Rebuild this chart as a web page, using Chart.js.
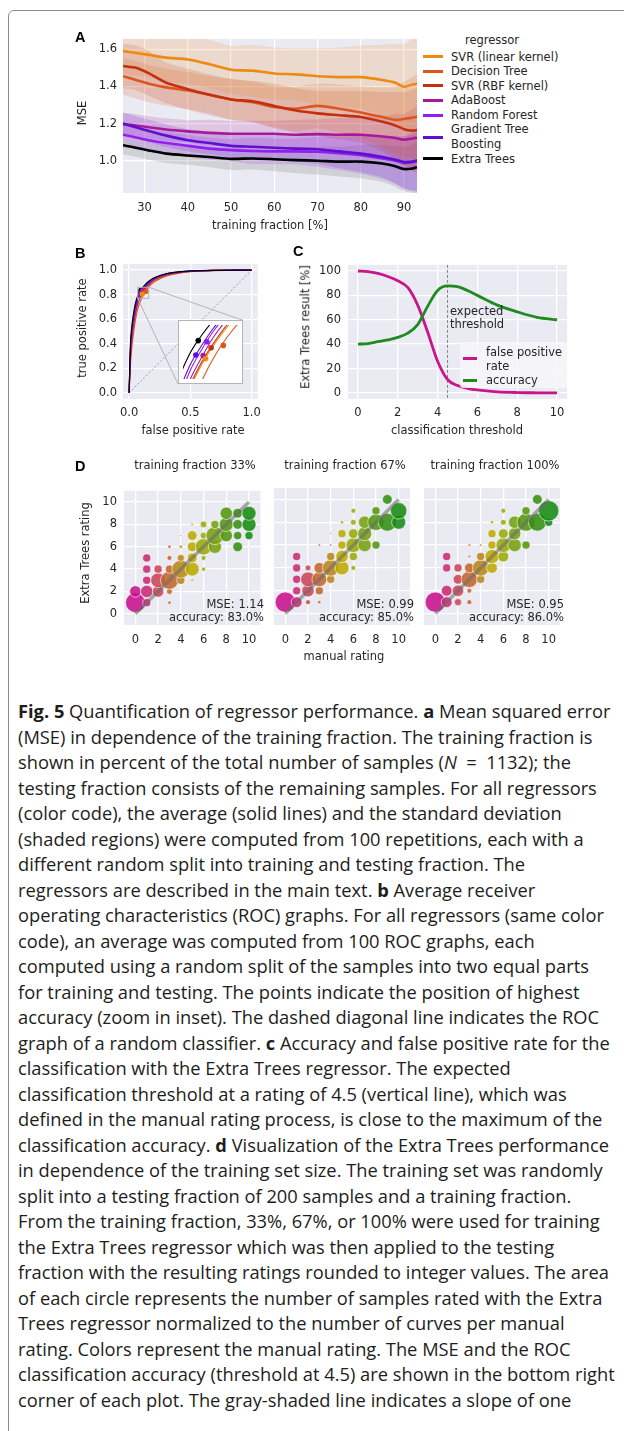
<!DOCTYPE html>
<html>
<head>
<meta charset="utf-8">
<title>Fig. 5 Quantification of regressor performance</title>
<script src="https://cdn.jsdelivr.net/npm/chart.js@4.4.1/dist/chart.umd.min.js"></script>
<style>
  html, body { margin: 0; padding: 0; background: #fff; }
  body { position: relative; width: 624px; height: 1431px; overflow: hidden;
         font-family: "DejaVu Sans", sans-serif; font-size: 11.5px; color: #262626; }
  .frame { position: absolute; left: 8px; top: 10px; width: 720px; height: 1500px;
           border: 1.5px solid #8c8c8c; border-radius: 6px; }
  #charts canvas { position: absolute; }
  .lbl { position: absolute; white-space: nowrap; line-height: 1; transform: translate(-50%, -50%); }
  .rot { transform: translate(-50%, -50%) rotate(-90deg); }
  .panel { position: absolute; font-family: "Liberation Sans", Arial, sans-serif; font-weight: bold;
           font-size: 14.5px; color: #000; line-height: 1; }
  .legend { position: absolute; line-height: 14.6px; }
  .legend .row { display: flex; align-items: center; white-space: nowrap; }
  .legend .swatch { width: 20px; height: 3px; margin-right: 8px; flex: none; }
  .note { position: absolute; white-space: nowrap; text-align: right; line-height: 12.5px; transform: translateX(-100%); }
  .inset { position: absolute; background: #fff; border: 1px solid #b4b4b4; box-sizing: border-box; }
  .caption { position: absolute; left: 18px; top: 698px; font-family: "Open Sans", sans-serif; font-size: 18.3px;
             line-height: 25.5px; color: #1d1d1b; white-space: nowrap; }
</style>
</head>
<body>
<div class="frame"></div>
<div id="charts"></div>

<div class="panel" style="left:75px;top:30px">A</div>
<div class="panel" style="left:75px;top:246px">B</div>
<div class="panel" style="left:293px;top:244px">C</div>
<div class="panel" style="left:75px;top:459px">D</div>

<div class="lbl rot" style="left:83px;top:113px">MSE</div>
<div class="lbl" style="left:270px;top:226px">training fraction [%]</div>
<div class="lbl" style="left:492px;top:41px">regressor</div>
<div class="legend" id="legendA" style="left:423px;top:49.5px"></div>

<div class="lbl rot" style="left:83px;top:328px">true positive rate</div>
<div class="lbl" style="left:193px;top:431px">false positive rate</div>

<div class="lbl rot" style="left:306px;top:327px">Extra Trees result [%]</div>
<div class="lbl" style="left:457px;top:431px">classification threshold</div>
<div class="note" style="left:450px;top:305px;transform:none;text-align:left">expected<br>threshold</div>
<div style="position:absolute;left:460px;top:342px;width:107px;height:46px;background:rgba(247,247,250,0.85);border-radius:3px"></div>
<div class="legend" id="legendC" style="left:463px;top:344.5px;line-height:14.3px"></div>

<div class="lbl rot" style="left:86px;top:553px">Extra Trees rating</div>
<div class="lbl" style="left:344px;top:657px">manual rating</div>
<div id="dTexts"></div>

<div class="caption">
<div><b>Fig. 5</b> Quantification of regressor performance. <b>a</b> Mean squared error</div>
<div>(MSE) in dependence of the training fraction. The training fraction is</div>
<div>shown in percent of the total number of samples (<i>N</i> &nbsp;= &nbsp;1132); the</div>
<div>testing fraction consists of the remaining samples. For all regressors</div>
<div>(color code), the average (solid lines) and the standard deviation</div>
<div>(shaded regions) were computed from 100 repetitions, each with a</div>
<div>different random split into training and testing fraction. The</div>
<div>regressors are described in the main text. <b>b</b> Average receiver</div>
<div>operating characteristics (ROC) graphs. For all regressors (same color</div>
<div>code), an average was computed from 100 ROC graphs, each</div>
<div>computed using a random split of the samples into two equal parts</div>
<div>for training and testing. The points indicate the position of highest</div>
<div>accuracy (zoom in inset). The dashed diagonal line indicates the ROC</div>
<div>graph of a random classifier. <b>c</b> Accuracy and false positive rate for the</div>
<div>classification with the Extra Trees regressor. The expected</div>
<div>classification threshold at a rating of 4.5 (vertical line), which was</div>
<div>defined in the manual rating process, is close to the maximum of the</div>
<div>classification accuracy. <b>d</b> Visualization of the Extra Trees performance</div>
<div>in dependence of the training set size. The training set was randomly</div>
<div>split into a testing fraction of 200 samples and a training fraction.</div>
<div>From the training fraction, 33%, 67%, or 100% were used for training</div>
<div>the Extra Trees regressor which was then applied to the testing</div>
<div>fraction with the resulting ratings rounded to integer values. The area</div>
<div>of each circle represents the number of samples rated with the Extra</div>
<div>Trees regressor normalized to the number of curves per manual</div>
<div>rating. Colors represent the manual rating. The MSE and the ROC</div>
<div>classification accuracy (threshold at 4.5) are shown in the bottom right</div>
<div>corner of each plot. The gray-shaded line indicates a slope of one</div>
</div>

<script>
// ---------- data ----------
const REGRESSORS = ["SVR (linear kernel)", "Decision Tree", "SVR (RBF kernel)", "AdaBoost",
                    "Random Forest", "Gradient Tree Boosting", "Extra Trees"];

// A: mean squared error vs. training fraction
const A_FRACTION = [25, 28, 31, 35, 40, 45, 50, 55, 60, 65, 70, 75, 80, 85, 88, 90, 92, 93];
const MSE_SVR_LINEAR = [1.59, 1.58, 1.57, 1.555, 1.545, 1.52, 1.49, 1.485, 1.47, 1.465, 1.455, 1.45, 1.45, 1.435, 1.42, 1.398, 1.41, 1.415];
const MSE_DECISION   = [1.455, 1.435, 1.415, 1.395, 1.378, 1.355, 1.33, 1.315, 1.29, 1.28, 1.295, 1.28, 1.26, 1.235, 1.22, 1.225, 1.232, 1.236];
const MSE_SVR_RBF    = [1.51, 1.5, 1.47, 1.42, 1.385, 1.355, 1.33, 1.32, 1.295, 1.27, 1.255, 1.245, 1.235, 1.21, 1.19, 1.17, 1.162, 1.165];
const MSE_ADABOOST   = [1.197, 1.19, 1.18, 1.168, 1.158, 1.15, 1.145, 1.145, 1.145, 1.14, 1.143, 1.14, 1.14, 1.13, 1.122, 1.113, 1.12, 1.124];
const MSE_FOREST     = [1.14, 1.125, 1.11, 1.095, 1.08, 1.065, 1.057, 1.052, 1.05, 1.05, 1.048, 1.04, 1.03, 1.012, 1.0, 0.988, 0.992, 0.998];
const MSE_GRADIENT   = [1.2, 1.18, 1.16, 1.135, 1.11, 1.095, 1.08, 1.075, 1.07, 1.065, 1.062, 1.05, 1.038, 1.02, 1.005, 0.993, 0.995, 1.002];
const MSE_EXTRA      = [1.083, 1.07, 1.055, 1.038, 1.028, 1.02, 1.01, 1.012, 1.008, 1.003, 1.0, 0.995, 0.995, 0.985, 0.97, 0.955, 0.958, 0.965];

const STD_SVR_LINEAR = [0.12, 0.12, 0.12, 0.13, 0.13, 0.13, 0.13, 0.14, 0.14, 0.14, 0.15, 0.16, 0.17, 0.19, 0.21, 0.23, 0.25, 0.27];
const STD_DECISION   = [0.10, 0.10, 0.10, 0.10, 0.10, 0.10, 0.11, 0.11, 0.11, 0.12, 0.12, 0.13, 0.14, 0.16, 0.18, 0.20, 0.22, 0.23];
const STD_SVR_RBF    = [0.12, 0.12, 0.12, 0.11, 0.11, 0.11, 0.11, 0.11, 0.12, 0.12, 0.12, 0.13, 0.14, 0.16, 0.18, 0.20, 0.22, 0.23];
const STD_ADABOOST   = [0.06, 0.06, 0.06, 0.06, 0.06, 0.07, 0.07, 0.07, 0.07, 0.08, 0.08, 0.09, 0.10, 0.11, 0.13, 0.14, 0.16, 0.17];
const STD_FOREST     = [0.06, 0.06, 0.06, 0.06, 0.06, 0.06, 0.06, 0.07, 0.07, 0.07, 0.08, 0.09, 0.10, 0.11, 0.12, 0.14, 0.15, 0.16];
const STD_GRADIENT   = [0.06, 0.06, 0.06, 0.06, 0.06, 0.06, 0.06, 0.07, 0.07, 0.07, 0.08, 0.09, 0.10, 0.11, 0.13, 0.14, 0.16, 0.17];
const STD_EXTRA      = [0.05, 0.05, 0.05, 0.05, 0.05, 0.055, 0.06, 0.06, 0.065, 0.07, 0.075, 0.08, 0.09, 0.10, 0.11, 0.12, 0.13, 0.14];

const A_XTICKS = [30, 40, 50, 60, 70, 80, 90];
const A_YTICKS = [1.0, 1.2, 1.4, 1.6];

// B: average ROC graphs
const ROC_FPR = [0, 0.01, 0.02, 0.04, 0.06, 0.08, 0.1, 0.12, 0.15, 0.2, 0.3, 0.4, 0.5, 0.7, 1.0];
const TPR_SVR_LINEAR = [0, 0.27, 0.41, 0.575, 0.685, 0.75, 0.793, 0.826, 0.866, 0.914, 0.958, 0.978, 0.988, 0.997, 1];
const TPR_DECISION   = [0, 0.22, 0.35, 0.52, 0.64, 0.715, 0.765, 0.805, 0.85, 0.9, 0.95, 0.973, 0.986, 0.996, 1];
const TPR_SVR_RBF    = [0, 0.28, 0.42, 0.58, 0.69, 0.755, 0.797, 0.83, 0.87, 0.917, 0.96, 0.979, 0.989, 0.997, 1];
const TPR_ADABOOST   = [0, 0.3, 0.44, 0.6, 0.7, 0.765, 0.805, 0.84, 0.878, 0.922, 0.962, 0.98, 0.99, 0.997, 1];
const TPR_FOREST     = [0, 0.33, 0.47, 0.62, 0.72, 0.78, 0.818, 0.85, 0.885, 0.927, 0.965, 0.982, 0.991, 0.998, 1];
const TPR_GRADIENT   = [0, 0.35, 0.49, 0.64, 0.735, 0.79, 0.825, 0.855, 0.89, 0.93, 0.967, 0.983, 0.992, 0.998, 1];
const TPR_EXTRA      = [0, 0.38, 0.52, 0.67, 0.76, 0.81, 0.842, 0.868, 0.9, 0.935, 0.97, 0.985, 0.993, 0.998, 1];
// position of highest accuracy per regressor
const BEST_FPR = [0.107, 0.136, 0.116, 0.103, 0.109, 0.091, 0.095];
const BEST_TPR = [0.804, 0.826, 0.822, 0.809, 0.832, 0.810, 0.834];
const RANDOM_CLASSIFIER = [0, 1];
const B_XTICKS = [0, 0.5, 1.0];
const B_YTICKS = [0, 0.2, 0.4, 0.6, 0.8, 1.0];
const ZOOM_X = [0.07, 0.16];
const ZOOM_Y = [0.77, 0.86];

// C: Extra Trees classification vs. threshold
const C_THRESHOLD = [0, 0.5, 1, 1.5, 2, 2.5, 3, 3.5, 4, 4.5, 5, 5.5, 6, 7, 8, 9, 10];
const C_FALSE_POS = [100, 99.5, 98, 95.5, 92, 86.5, 72, 50, 26, 11, 6, 3.8, 2.4, 0.9, 0.3, 0.1, 0];
const C_ACCURACY  = [40, 40.5, 42, 43.5, 45.5, 49, 56, 71, 84, 87.8, 87.2, 84, 80, 72, 66.5, 62, 60];
const EXPECTED_THRESHOLD = 4.5;
const C_XTICKS = [0, 2, 4, 6, 8, 10];
const C_YTICKS = [0, 20, 40, 60, 80, 100];

// D: [manual rating, Extra Trees rating, share of curves in %]
const D_FRACTIONS = [33, 67, 100];
const D_MSE = [1.14, 0.99, 0.95];
const D_ACCURACY = [83.0, 85.0, 86.0];
const D33 = [[0,1,53],[0,2,18],
  [1,1,9],[1,2,21],[1,3,9],[1,4,9],[1,5,9],
  [2,2,18],[2,3,30],[2,4,9],
  [3,1,1.5],[3,2,4.5],[3,3,44],[3,4,9],[3,5,3.3],[3,6,1.5],
  [4,3,9],[4,4,44],[4,5,7],[4,6,1.5],[4,7,0.4],
  [5,3,0.8],[5,4,27],[5,5,13],[5,6,13],[5,7,13],[5,8,0.8],
  [6,4,2.3],[6,5,3.3],[6,6,37],[6,7,6],[6,8,6],
  [7,6,24],[7,7,44],[7,8,9],
  [8,7,21],[8,8,27],[8,9,21],
  [9,6,13],[9,7,9],[9,8,13],[9,9,13],
  [10,7,9],[10,8,27],[10,9,27]];
const D67 = [[0,1,57],
  [1,1,16],[1,2,9],[1,3,9],[1,4,9],[1,5,9],
  [2,1,3.3],[2,2,21],[2,3,30],[2,4,4.5],
  [3,1,1.5],[3,2,9],[3,3,30],[3,4,16],[3,6,0.8],
  [4,3,9],[4,4,37],[4,5,9],[4,6,0.8],[4,7,0.4],
  [5,4,27],[5,5,21],[5,6,9],[5,7,9],[5,8,1.5],
  [6,4,3.3],[6,5,9],[6,6,30],[6,7,13],[6,8,4.5],[6,9,3.3],
  [7,6,24],[7,7,27],[7,8,21],
  [8,6,9],[8,8,37],[8,9,9],
  [9,8,44],[9,10,13],
  [10,8,27],[10,9,37]];
const D100 = [[0,1,57],
  [1,1,16],[1,2,16],[1,4,9],[1,5,9],
  [2,1,7],[2,2,18],[2,3,13],[2,4,9],
  [3,1,3.3],[3,2,3.3],[3,3,37],[3,4,13],[3,5,0.8],[3,6,0.8],
  [4,3,9],[4,4,37],[4,5,9],[4,6,0.8],
  [5,4,16],[5,5,27],[5,6,9],[5,7,9],[5,8,1.5],
  [6,5,16],[6,6,30],[6,7,13],[6,8,4.5],[6,9,3.3],
  [7,6,24],[7,7,21],[7,8,21],
  [8,6,9],[8,8,44],[8,9,9],
  [9,8,44],[9,10,13],
  [10,8,9],[10,9,57]];
const SLOPE_ONE = [0, 10];
const D_TICKS = [0, 2, 4, 6, 8, 10];

// ---------- styles ----------
const COLORS = ["#ee8a10", "#dd561c", "#c4300f", "#a6189c", "#961cf2", "#5e10cf", "#000000"];
const D_COLORS = ["#c8108c", "#c82a72", "#c84456", "#c2652e", "#b8861a", "#bbaa00",
                  "#98a80a", "#74a00e", "#52960f", "#349010", "#168a12"];
const FPR_COLOR = "#c8168a";
const ACC_COLOR = "#1f8a1f";
const PLOT_BG = "#eaeaf2";

const A_MEANS = [MSE_SVR_LINEAR, MSE_DECISION, MSE_SVR_RBF, MSE_ADABOOST, MSE_FOREST, MSE_GRADIENT, MSE_EXTRA];
const A_STDS = [STD_SVR_LINEAR, STD_DECISION, STD_SVR_RBF, STD_ADABOOST, STD_FOREST, STD_GRADIENT, STD_EXTRA];
const ROC_TPR = [TPR_SVR_LINEAR, TPR_DECISION, TPR_SVR_RBF, TPR_ADABOOST, TPR_FOREST, TPR_GRADIENT, TPR_EXTRA];

function rgba(hex, a) {
    const n = parseInt(hex.slice(1), 16);
    return "rgba(" + (n >> 16) + "," + ((n >> 8) & 255) + "," + (n & 255) + "," + a + ")";
}

Chart.defaults.font.family = '"DejaVu Sans", sans-serif';
Chart.defaults.font.size = 11.5;
Chart.defaults.color = "#262626";
Chart.defaults.animation = false;

// grey plotting background like seaborn darkgrid
Chart.register({
    id: "plotBg",
    beforeDraw(chart, args, opts) {
        const a = chart.chartArea;
        if (!a || !opts.color) return;
        chart.ctx.save();
        chart.ctx.fillStyle = opts.color;
        chart.ctx.fillRect(a.left, a.top, a.width, a.height);
        chart.ctx.restore();
    }
});

function axis(min, max, ticks, digits, size, pad, show) {
    return {
        type: "linear", min: min, max: max,
        afterBuildTicks: s => { s.ticks = ticks.map(v => ({ value: v })); },
        afterFit: s => { if (s.isHorizontal()) s.height = size; else s.width = size; },
        grid: { color: "#ffffff", lineWidth: 1.3, drawTicks: false },
        border: { display: false },
        ticks: { display: show !== false, padding: pad, autoSkip: false, maxRotation: 0,
                 callback: v => Number(v).toFixed(digits) }
    };
}

function options(xs, ys, bg, extra) {
    return Object.assign({
        responsive: false, animation: false, devicePixelRatio: 1, events: [],
        layout: { padding: { top: 5, right: 5, left: 0, bottom: 0 } },
        plugins: { legend: { display: false }, tooltip: { enabled: false }, plotBg: { color: bg } },
        scales: { x: xs, y: ys }
    }, extra || {});
}

function canvasAt(left, top, w, h, parent) {
    const c = document.createElement("canvas");
    c.width = w; c.height = h;
    c.style.left = left + "px"; c.style.top = top + "px";
    c.style.width = w + "px"; c.style.height = h + "px";
    (parent || document.getElementById("charts")).appendChild(c);
    return c;
}

function xy(xs, ys) { return xs.map((x, k) => ({ x: x, y: ys[k] })); }

// ---------- A ----------
const aSets = [];
A_MEANS.forEach((mean, i) => {
    aSets.push({ data: xy(A_FRACTION, mean), borderColor: COLORS[i], borderWidth: 2.6,
                 pointRadius: 0, tension: 0.25, fill: false, order: 6 - i });
});
A_MEANS.forEach((mean, i) => {
    const sd = A_STDS[i];
    aSets.push({ data: xy(A_FRACTION, mean.map((m, k) => m + sd[k])), borderWidth: 0, pointRadius: 0,
                 tension: 0.25, fill: "+1", backgroundColor: rgba(COLORS[i] === "#000000" ? "#555555" : COLORS[i], 0.17), order: 20 });
    aSets.push({ data: xy(A_FRACTION, mean.map((m, k) => m - sd[k])), borderWidth: 0, pointRadius: 0,
                 tension: 0.25, fill: false, order: 20 });
});
new Chart(canvasAt(83, 26, 339, 187), {
    type: "line",
    data: { datasets: aSets },
    options: options(axis(25, 93, A_XTICKS, 0, 20, 8), axis(0.826, 1.656, A_YTICKS, 1, 40, 6), PLOT_BG)
});

const legA = document.getElementById("legendA");
REGRESSORS.forEach((name, i) => {
    const row = document.createElement("div");
    row.className = "row";
    const label = name === "Gradient Tree Boosting" ? "Gradient Tree<br>Boosting" : name;
    row.innerHTML = '<span class="swatch" style="background:' + COLORS[i] + '"></span><span>' + label + "</span>";
    legA.appendChild(row);
});

// ---------- B ----------
const bLines = ROC_TPR.map((tpr, i) => ({
    data: xy(ROC_FPR, tpr), borderColor: COLORS[i], borderWidth: 1.2, pointRadius: 0,
    cubicInterpolationMode: "monotone", fill: false, order: 10 - i
}));
const bPoints = BEST_FPR.map((f, i) => ({
    data: [{ x: f, y: BEST_TPR[i] }], showLine: false, pointRadius: 2.6,
    pointBackgroundColor: COLORS[i], pointBorderWidth: 0, order: 0
}));
const bDiag = { data: xy(RANDOM_CLASSIFIER, RANDOM_CLASSIFIER), borderColor: "#9a9a9a", borderWidth: 1,
                borderDash: [2, 2], pointRadius: 0, fill: false, order: 30 };

const INSET_BOX = [0.40, 0.07, 0.93, 0.59];   // inset axes in data coordinates of panel B
const zoomLines = {
    id: "zoomLines",
    afterDatasetsDraw(chart) {
        const ctx = chart.ctx, x = chart.scales.x, y = chart.scales.y;
        ctx.save();
        ctx.strokeStyle = "#b4b4b4";
        ctx.lineWidth = 1;
        ctx.strokeRect(x.getPixelForValue(ZOOM_X[0]), y.getPixelForValue(ZOOM_Y[1]),
                       x.getPixelForValue(ZOOM_X[1]) - x.getPixelForValue(ZOOM_X[0]),
                       y.getPixelForValue(ZOOM_Y[0]) - y.getPixelForValue(ZOOM_Y[1]));
        ctx.beginPath();
        ctx.moveTo(x.getPixelForValue(ZOOM_X[1]), y.getPixelForValue(ZOOM_Y[1]));
        ctx.lineTo(x.getPixelForValue(INSET_BOX[2]), y.getPixelForValue(INSET_BOX[3]));
        ctx.moveTo(x.getPixelForValue(ZOOM_X[0]), y.getPixelForValue(ZOOM_Y[0]));
        ctx.lineTo(x.getPixelForValue(INSET_BOX[0]), y.getPixelForValue(INSET_BOX[1]));
        ctx.stroke();
        ctx.restore();
    }
};
const bLeft = 83, bTop = 251;
const chartB = new Chart(canvasAt(bLeft, bTop, 185, 170), {
    type: "line",
    data: { datasets: bPoints.concat(bLines, [bDiag]) },
    options: options(axis(-0.05, 1.05, B_XTICKS, 1, 22, 7), axis(-0.05, 1.05, B_YTICKS, 1, 40, 6), PLOT_BG),
    plugins: [zoomLines]
});

// inset with the zoomed region
(function () {
    const x = chartB.scales.x, y = chartB.scales.y;
    const l = bLeft + x.getPixelForValue(INSET_BOX[0]), r = bLeft + x.getPixelForValue(INSET_BOX[2]);
    const t = bTop + y.getPixelForValue(INSET_BOX[3]), b = bTop + y.getPixelForValue(INSET_BOX[1]);
    const box = document.createElement("div");
    box.className = "inset";
    box.style.left = Math.round(l) + "px"; box.style.top = Math.round(t) + "px";
    box.style.width = Math.round(r - l) + "px"; box.style.height = Math.round(b - t) + "px";
    document.getElementById("charts").appendChild(box);
    const w = Math.round(r - l) - 2, h = Math.round(b - t) - 2;
    const c = canvasAt(1, 1, w, h, box);
    c.style.left = "0px"; c.style.top = "0px";
    const hidden = (lo, hi) => ({ type: "linear", min: lo, max: hi, display: false });
    new Chart(c, {
        type: "line",
        data: {
            datasets: bPoints.map(d => Object.assign({}, d, { pointRadius: 2.8 })).concat(
                      bLines.map(d => Object.assign({}, d, { borderWidth: 1.1 })))
        },
        options: options(hidden(ZOOM_X[0], ZOOM_X[1]), hidden(ZOOM_Y[0], ZOOM_Y[1]), null,
                         { layout: { padding: 0 } })
    });
})();

// ---------- C ----------
const thresholdLine = {
    id: "thresholdLine",
    beforeDatasetsDraw(chart) {
        const ctx = chart.ctx, a = chart.chartArea;
        const px = chart.scales.x.getPixelForValue(EXPECTED_THRESHOLD);
        ctx.save();
        ctx.strokeStyle = "#808080";
        ctx.lineWidth = 1;
        ctx.setLineDash([3, 2]);
        ctx.beginPath();
        ctx.moveTo(px, a.top);
        ctx.lineTo(px, a.bottom);
        ctx.stroke();
        ctx.restore();
    }
};
new Chart(canvasAt(308, 251, 264, 170), {
    type: "line",
    data: {
        datasets: [
            { data: xy(C_THRESHOLD, C_ACCURACY), borderColor: ACC_COLOR, borderWidth: 2.8, pointRadius: 0,
              cubicInterpolationMode: "monotone", fill: false },
            { data: xy(C_THRESHOLD, C_FALSE_POS), borderColor: FPR_COLOR, borderWidth: 2.8, pointRadius: 0,
              cubicInterpolationMode: "monotone", fill: false }
        ]
    },
    options: options(axis(-0.5, 10.5, C_XTICKS, 0, 22, 7), axis(-5, 105, C_YTICKS, 0, 40, 7), PLOT_BG),
    plugins: [thresholdLine]
});
document.getElementById("legendC").innerHTML =
    '<div class="row"><span class="swatch" style="width:14px;margin-right:9px;background:' + FPR_COLOR +
    '"></span><span>false positive<br>rate</span></div>' +
    '<div class="row"><span class="swatch" style="width:14px;margin-right:9px;background:' + ACC_COLOR +
    '"></span><span>accuracy</span></div>';

// ---------- D ----------
const D_RMAX = 13.5;   // bubble radius (px) for a share of 100 %
const D_PLOT_LEFT = [124, 274, 424];
[D33, D67, D100].forEach((cells, i) => {
    const left = D_PLOT_LEFT[i];
    new Chart(canvasAt(left - 40, 477, 187, 168), {
        type: "bubble",
        data: {
            datasets: [
                { type: "line", data: xy(SLOPE_ONE, SLOPE_ONE), borderColor: "rgba(105,105,105,0.55)",
                  borderWidth: 3.5, pointRadius: 0, fill: false, order: 0 },
                { data: cells.map(c => ({ x: c[0], y: c[1], r: D_RMAX * Math.sqrt(c[2] / 100) })),
                  backgroundColor: ctx => ctx.raw ? rgba(D_COLORS[ctx.raw.x], 0.88) : "#888",
                  borderColor: "rgba(255,255,255,0.75)", borderWidth: 0.8, order: 1 }
            ]
        },
        options: options(axis(-1, 11, D_TICKS, 0, 20, 8), axis(-1, 11, D_TICKS, 0, 40, 7, i === 0), PLOT_BG)
    });
    const t = document.getElementById("dTexts");
    const title = document.createElement("div");
    title.className = "lbl";
    title.style.left = (left + 71) + "px";
    title.style.top = "466px";
    title.textContent = "training fraction " + D_FRACTIONS[i] + "%";
    t.appendChild(title);
    const note = document.createElement("div");
    note.className = "note";
    note.style.left = (left + 140) + "px";
    note.style.top = "598px";
    note.innerHTML = "MSE: " + D_MSE[i].toFixed(2) + "<br>accuracy: " + D_ACCURACY[i].toFixed(1) + "%";
    t.appendChild(note);
});
</script>
</body>
</html>
